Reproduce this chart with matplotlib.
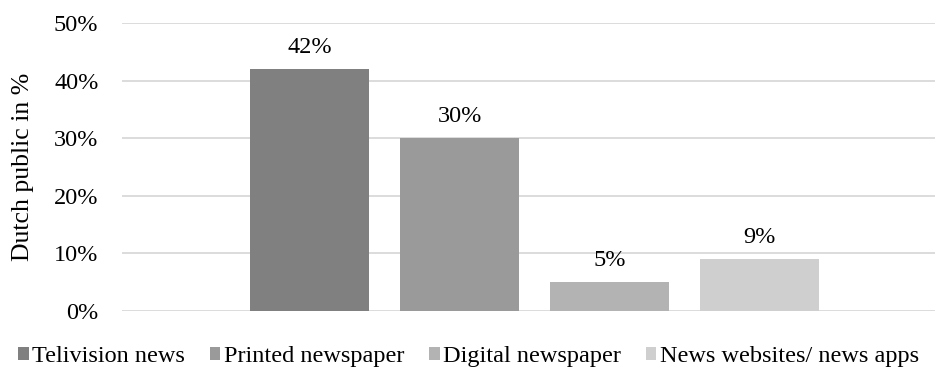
import matplotlib.pyplot as plt
from matplotlib.ticker import PercentFormatter

# Data
categories = ['Telivision news', 'Printed newspaper', 'Digital newspaper', 'News websites/ news apps']
values = [42, 30, 5, 9]
colors = ['#808080', '#9a9a9a', '#b3b3b3', '#cfcfcf']
yticks = [0, 10, 20, 30, 40, 50]

plt.rcParams['font.family'] = ['Liberation Serif', 'DejaVu Serif']

fig = plt.figure(figsize=(9.37, 3.73), dpi=100)
ax = fig.add_axes([0.1302, 0.1662, 0.8677, 0.772])

xs = list(range(len(values)))
bars = ax.bar(xs, values, width=0.79, color=colors, label=categories, zorder=3)

# value labels
for x, v in zip(xs, values):
    ax.annotate(f'{v}%', (x, v), xytext=(0, 8), textcoords='offset points',
                ha='center', va='bottom', fontsize=17.5)

ax.set_xlim(-1.25, 4.17)
ax.set_ylim(0, 50)
ax.set_yticks(yticks)
ax.yaxis.set_major_formatter(PercentFormatter(decimals=0))
ax.tick_params(axis='y', length=0, labelsize=17.5, pad=17)
ax.set_xticks([])
ax.grid(axis='y', color='#d9d9d9', linewidth=1.3, zorder=0)
for s in ax.spines.values():
    s.set_visible(False)
ax.set_ylabel('Dutch public in %', fontsize=18.5, labelpad=14)

fig.legend(handles=bars, labels=categories, loc='center', bbox_to_anchor=(0.5, 0.043),
           ncol=4, frameon=False, fontsize=17.5, handlelength=0.45, handleheight=0.45,
           handletextpad=0.15, columnspacing=1.0)

fig.savefig('out.png', dpi=100)
